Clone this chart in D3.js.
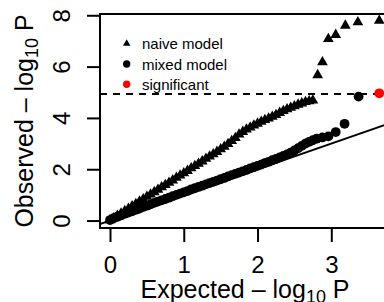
<!DOCTYPE html>
<html><head><meta charset="utf-8">
<script src="https://cdn.jsdelivr.net/npm/d3@7/dist/d3.min.js"></script>
<style>
html,body{margin:0;padding:0;background:#fff;overflow:hidden}
svg{display:block}
text{font-family:"Liberation Sans",Arial,Helvetica,sans-serif;fill:#000}
</style></head>
<body>
<svg id="chart" width="384" height="302"></svg>
<script>
// ---- data ----
const naiveExpected = [0,0.05,0.1,0.15,0.2,0.25,0.3,0.35,0.4,0.45,0.5,0.55,0.6,0.65,0.7,0.75,0.8,0.85,0.9,0.95,1.0,1.05,1.1,1.15,1.2,1.25,1.3,1.35,1.4,1.45,1.5,1.55,1.6,1.65,1.7,1.75,1.8,1.85,1.9,1.95,2.0,2.05,2.1,2.15,2.2,2.25,2.3,2.35,2.4,2.45,2.5,2.55,2.6,2.65,2.7,2.75,2.815,2.88,2.96,3.06,3.19,3.36,3.65];
const naiveObserved = [0.02,0.09,0.19,0.28,0.37,0.46,0.56,0.65,0.74,0.83,0.93,1.02,1.11,1.2,1.3,1.39,1.48,1.57,1.67,1.76,1.85,1.94,2.04,2.13,2.22,2.31,2.41,2.5,2.59,2.68,2.78,2.88,2.99,3.1,3.22,3.36,3.46,3.55,3.63,3.71,3.78,3.85,3.92,3.98,4.05,4.12,4.2,4.27,4.34,4.4,4.46,4.52,4.57,4.62,4.65,4.68,5.67,6.17,7.08,7.24,7.6,7.73,7.79];
const mixedExpected = [0,0.05,0.1,0.15,0.2,0.25,0.3,0.35,0.4,0.45,0.5,0.55,0.6,0.65,0.7,0.75,0.8,0.85,0.9,0.95,1.0,1.05,1.1,1.15,1.2,1.25,1.3,1.35,1.4,1.45,1.5,1.55,1.6,1.65,1.7,1.75,1.8,1.85,1.9,1.95,2.0,2.05,2.1,2.15,2.2,2.25,2.3,2.35,2.4,2.45,2.5,2.55,2.6,2.65,2.7,2.75,2.8,2.88,2.96,3.06,3.18,3.37,3.65];
const mixedObserved = [0.02,0.09,0.15,0.2,0.26,0.31,0.36,0.42,0.47,0.53,0.58,0.63,0.69,0.74,0.79,0.84,0.89,0.95,1.0,1.05,1.1,1.15,1.21,1.26,1.31,1.36,1.41,1.46,1.51,1.56,1.61,1.66,1.72,1.77,1.82,1.87,1.92,1.97,2.03,2.08,2.13,2.18,2.24,2.29,2.35,2.4,2.46,2.52,2.58,2.65,2.73,2.82,2.91,3.0,3.07,3.13,3.19,3.24,3.28,3.45,3.77,4.83,4.96];
const threshold = 4.93;
const xTicks = [0,1,2,3];
const yTicks = [0,2,4,6,8];
const legendLabels = ["naive model","mixed model","significant"];

// ---- layout ----
const svg = d3.select("#chart");
const L = 100, R = 394, T = 14, B = 228;
const x = d3.scaleLinear().domain([-0.1356, 3.85]).range([L, R]);
const y = d3.scaleLinear().domain([-0.29, 8.05]).range([B, T]);

svg.append("defs").append("clipPath").attr("id","plotclip")
  .append("rect").attr("x",L).attr("y",T).attr("width",R-L).attr("height",B-T);
const plot = svg.append("g").attr("clip-path","url(#plotclip)");

// reference line y = x
plot.append("line")
  .attr("x1",x(-0.1356)).attr("y1",y(-0.1356))
  .attr("x2",x(3.85)).attr("y2",y(3.85))
  .attr("stroke","#000").attr("stroke-width",1.8);

// threshold dashed line
plot.append("line")
  .attr("x1",L).attr("x2",R).attr("y1",y(threshold)).attr("y2",y(threshold))
  .attr("stroke","#000").attr("stroke-width",2).attr("stroke-dasharray","7,6");

const naive = naiveExpected.map((e,i)=>({e, o:naiveObserved[i]}));
const mixed = mixedExpected.map((e,i)=>({e, o:mixedObserved[i]}));

const tri = d3.symbol().type(d3.symbolTriangle).size(50);
plot.selectAll("path.naive").data(naive).enter().append("path")
  .attr("class","naive").attr("d",tri)
  .attr("transform",d=>`translate(${x(d.e)},${y(d.o)})`).attr("fill","#000");

plot.selectAll("circle.mixed").data(mixed).enter().append("circle")
  .attr("class","mixed").attr("cx",d=>x(d.e)).attr("cy",d=>y(d.o)).attr("r",4.9)
  .attr("fill",d=>d.o>threshold?"#ff0000":"#000");

// box
svg.append("path")
  .attr("d",`M${R},${T}H${L}V${B}H${R}`)
  .attr("fill","none").attr("stroke","#000").attr("stroke-width",2);

// axes
const xAxis = svg.append("g").attr("transform",`translate(0,${B})`)
  .call(d3.axisBottom(x).tickValues(xTicks).tickSize(14).tickFormat(d3.format("d")));
xAxis.select(".domain").remove();
xAxis.selectAll("line").attr("stroke-width",2);
xAxis.selectAll("text").attr("font-size",24).attr("font-family","Liberation Sans, Arial, sans-serif")
  .attr("dy",null).attr("y",45);

const yAxis = svg.append("g").attr("transform",`translate(${L},0)`)
  .call(d3.axisLeft(y).tickValues(yTicks).tickSize(13).tickFormat(d3.format("d")));
yAxis.select(".domain").remove();
yAxis.selectAll("line").attr("stroke-width",2);
yAxis.selectAll("text").attr("font-size",24).attr("font-family","Liberation Sans, Arial, sans-serif")
  .attr("x",0).attr("y",0).attr("dy",null).attr("text-anchor","middle")
  .attr("transform","translate(-30,0) rotate(-90)");

// axis titles
const xt = svg.append("text").attr("x",245).attr("y",298).attr("text-anchor","middle").attr("font-size",25);
xt.append("tspan").text("Expected \u2013 log");
xt.append("tspan").attr("font-size",18).attr("dy",5).text("10");
xt.append("tspan").attr("dy",-5).text(" P");

const yt = svg.append("text").attr("transform",`translate(33,${(T+B)/2}) rotate(-90)`)
  .attr("text-anchor","middle").attr("font-size",25);
yt.append("tspan").text("Observed \u2013 log");
yt.append("tspan").attr("font-size",18).attr("dy",5).text("10");
yt.append("tspan").attr("dy",-5).text(" P");

// legend
const lg = svg.append("g");
const rows = [43.5, 64, 84.3];
lg.append("path").attr("d",d3.symbol().type(d3.symbolTriangle).size(24)())
  .attr("transform",`translate(126.7,${rows[0]})`).attr("fill","#000");
lg.append("circle").attr("cx",126.7).attr("cy",rows[1]).attr("r",3.7).attr("fill","#000");
lg.append("circle").attr("cx",126.7).attr("cy",rows[2]).attr("r",3.7).attr("fill","#ff0000");
legendLabels.forEach((t,i)=>{
  lg.append("text").attr("x",142).attr("y",rows[i]+5.6).attr("font-size",15).text(t);
});
</script>
</body></html>
